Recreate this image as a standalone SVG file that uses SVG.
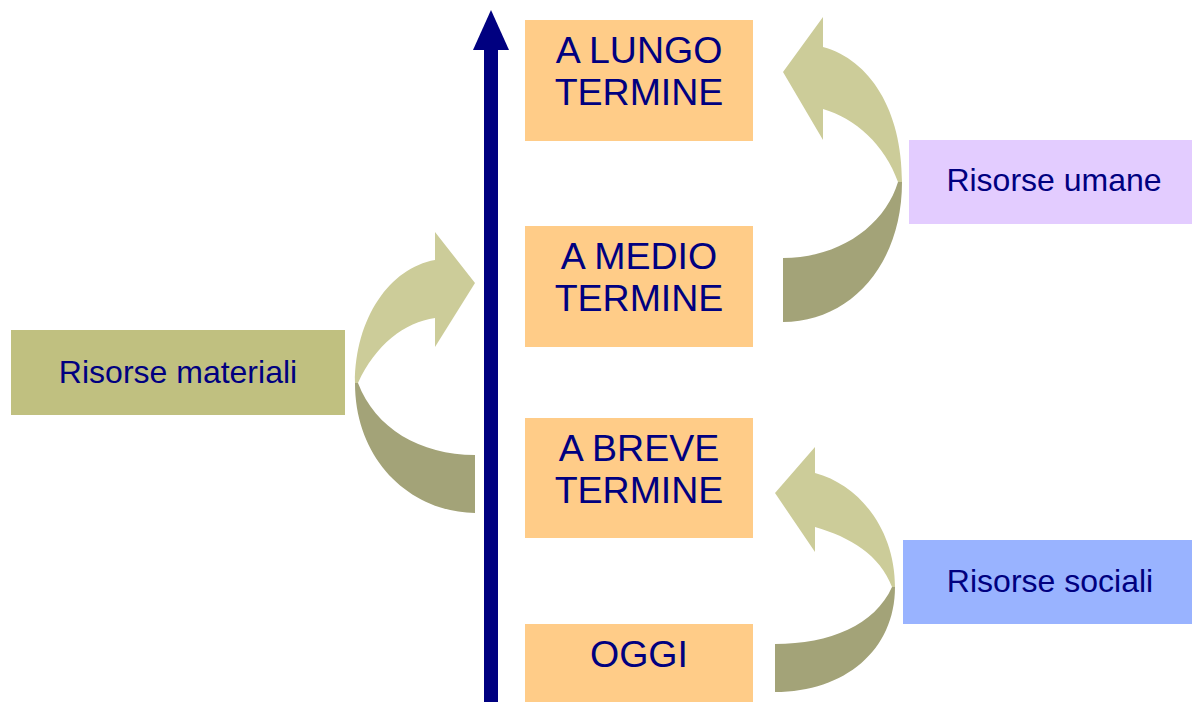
<svg xmlns="http://www.w3.org/2000/svg" width="1192" height="702" viewBox="0 0 1192 702">
<style>
.box{fill:#FFCC88}
.t{font-family:"Liberation Sans",Arial,sans-serif;fill:#000080;text-anchor:middle}
.big{font-size:37.5px}
.sm{font-size:32px}
.light{fill:#CCCC99}
.dark{fill:#A3A378}
</style>
<rect width="1192" height="702" fill="#FFFFFF"/>
<g id="connectors">
<g id="axis">
<rect x="484" y="46" width="14" height="656" fill="#000080"/>
<polygon points="491,10 473,50 509,50" fill="#000080"/>
</g>
<g id="arrow-materiali">
<path class="dark" d="M 355,383 C 355,460 410,512 475,513 L 475,455 C 420,455 375,428 358,383 Z"/>
<path class="light" d="M 435,260 L 435,232 L 475,283 L 435,347 L 435,318 C 405,322 375,345 358,383 L 355,383 C 355,318 390,268 435,260 Z"/>
</g>
<g id="arrow-umane">
<path class="dark" d="M 902,182 C 902,265 850,322 783,322 L 783,258 C 840,258 885,225 898,182 Z"/>
<path class="light" d="M 823,47 L 823,17 L 783,72 L 823,140 L 823,109 C 855,118 885,145 898,182 L 902,182 C 902,110 870,60 823,47 Z"/>
</g>
<g id="arrow-sociali">
<path class="dark" d="M 895,587 C 895,650 845,692 775,692 L 775,644 C 830,644 875,625 892,587 Z"/>
<path class="light" d="M 815,473 L 815,447 L 775,493 L 815,552 L 815,527 C 850,537 880,555 892,587 L 895,587 C 895,530 860,485 815,473 Z"/>
</g>
</g>
<g id="lungo">
<rect class="box" x="525" y="20" width="228" height="121"/>
<text class="t big" x="639" y="63">A LUNGO</text>
<text class="t big" x="639" y="105">TERMINE</text>
</g>
<g id="medio">
<rect class="box" x="525" y="226" width="228" height="121"/>
<text class="t big" x="639" y="269">A MEDIO</text>
<text class="t big" x="639" y="311">TERMINE</text>
</g>
<g id="breve">
<rect class="box" x="525" y="418" width="228" height="120"/>
<text class="t big" x="639" y="461">A BREVE</text>
<text class="t big" x="639" y="503">TERMINE</text>
</g>
<g id="oggi">
<rect class="box" x="525" y="624" width="228" height="78"/>
<text class="t big" x="639" y="667">OGGI</text>
</g>
<g id="materiali">
<rect x="11" y="330" width="334" height="85" fill="#C0C080"/>
<text class="t sm" x="178" y="383">Risorse materiali</text>
</g>
<g id="umane">
<rect x="909" y="140" width="283" height="84" fill="#E3CCFF"/>
<text class="t sm" x="1054" y="191">Risorse umane</text>
</g>
<g id="sociali">
<rect x="903" y="540" width="289" height="84" fill="#99B3FF"/>
<text class="t sm" x="1050" y="592">Risorse sociali</text>
</g>
</svg>
